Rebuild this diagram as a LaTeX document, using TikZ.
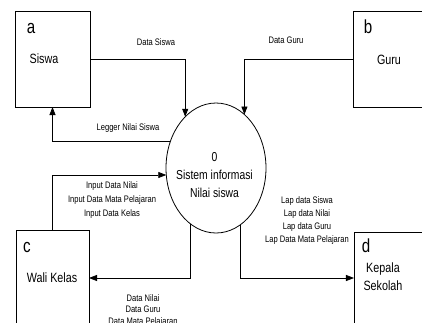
\documentclass[tikz,border=0pt]{standalone}
\usepackage{fontspec}
\setmainfont{Liberation Sans}
\newfontfamily\narrowfont[FakeStretch=0.8]{Liberation Sans}
\usetikzlibrary{shapes.geometric,arrows.meta}
\begin{document}
\begin{tikzpicture}[x=1bp,y=-1bp,
  every node/.style={font=\narrowfont},
  ent/.style={draw=black,line width=0.8bp,rectangle,inner sep=0,outer sep=0},
  proc/.style={draw=black,line width=0.8bp,ellipse,inner sep=0,outer sep=0,minimum width=100bp,minimum height=130bp},
  letter/.style={font=\narrowfont\fontsize{19}{19}\selectfont,inner sep=0},
  ename/.style={font=\narrowfont\fontsize{13.5}{18}\selectfont,inner sep=0,align=center},
  flow/.style={font=\narrowfont\fontsize{9.5}{13}\selectfont,inner sep=0,align=center},
  arr/.style={draw=black,line width=0.8bp,-{Triangle[length=8bp,width=6bp]}},
  ln/.style={draw=black,line width=0.8bp}]
\useasboundingbox (0,0) rectangle (422,323);
\clip (0,0) rectangle (422,323);
% entities
\node[ent,minimum width=75bp,minimum height=96bp] (a) at (52.5,59) {};
\node[ent,minimum width=90bp,minimum height=96bp] (b) at (398,59) {};
\node[ent,minimum width=73bp,minimum height=96bp] (c) at (52.5,278) {};
\node[ent,minimum width=90bp,minimum height=92bp] (d) at (399,278) {};
\node[letter] (la) at (31,28) {a};
\node[ename] (na) at (44,59) {Siswa};
\node[letter] (lb) at (368,27) {b};
\node[ename] (nb) at (389,60) {Guru};
\node[letter] (lc) at (27,247) {c};
\node[ename] (nc) at (52,278) {Wali Kelas};
\node[letter] (ld) at (366,246) {d};
\node[ename] (nd) at (383,277) {Kepala\\Sekolah};
% process
\node[proc] (o) at (216,168) {};
\node[ename,font=\narrowfont\fontsize{13}{18}\selectfont] (ot) at (214.5,175) {0\\Sistem informasi\\Nilai siswa};
% flows
\draw[arr] (a.east) -| (o.121);
\draw[arr] (b.west) -| (o.62);
\draw[arr] (o.150) -| (a.south);
\draw[arr] (c.north) |- (o.188);
\draw[arr] (o.245) |- (c.east);
\draw[arr] (o.293) |- (d.west);
% labels
\node[flow] (f1) at (156,42) {Data Siswa};
\node[flow] (f2) at (286,40) {Data Guru};
\node[flow] (f3) at (128,128) {Legger Nilai Siswa};
\node[flow,font=\narrowfont\fontsize{9.5}{14}\selectfont] (f4) at (112,200) {Input Data Nilai\\Input Data Mata Pelajaran\\Input Data Kelas};
\node[flow] (f5) at (307,220.5) {Lap data Siswa\\Lap data Nilai\\Lap data Guru\\Lap Data Mata Pelajaran};
\node[flow,font=\narrowfont\fontsize{9.5}{11.5}\selectfont] (f6) at (143,310.5) {Data Nilai\\Data Guru\\Data Mata Pelajaran};
\end{tikzpicture}
\end{document}
